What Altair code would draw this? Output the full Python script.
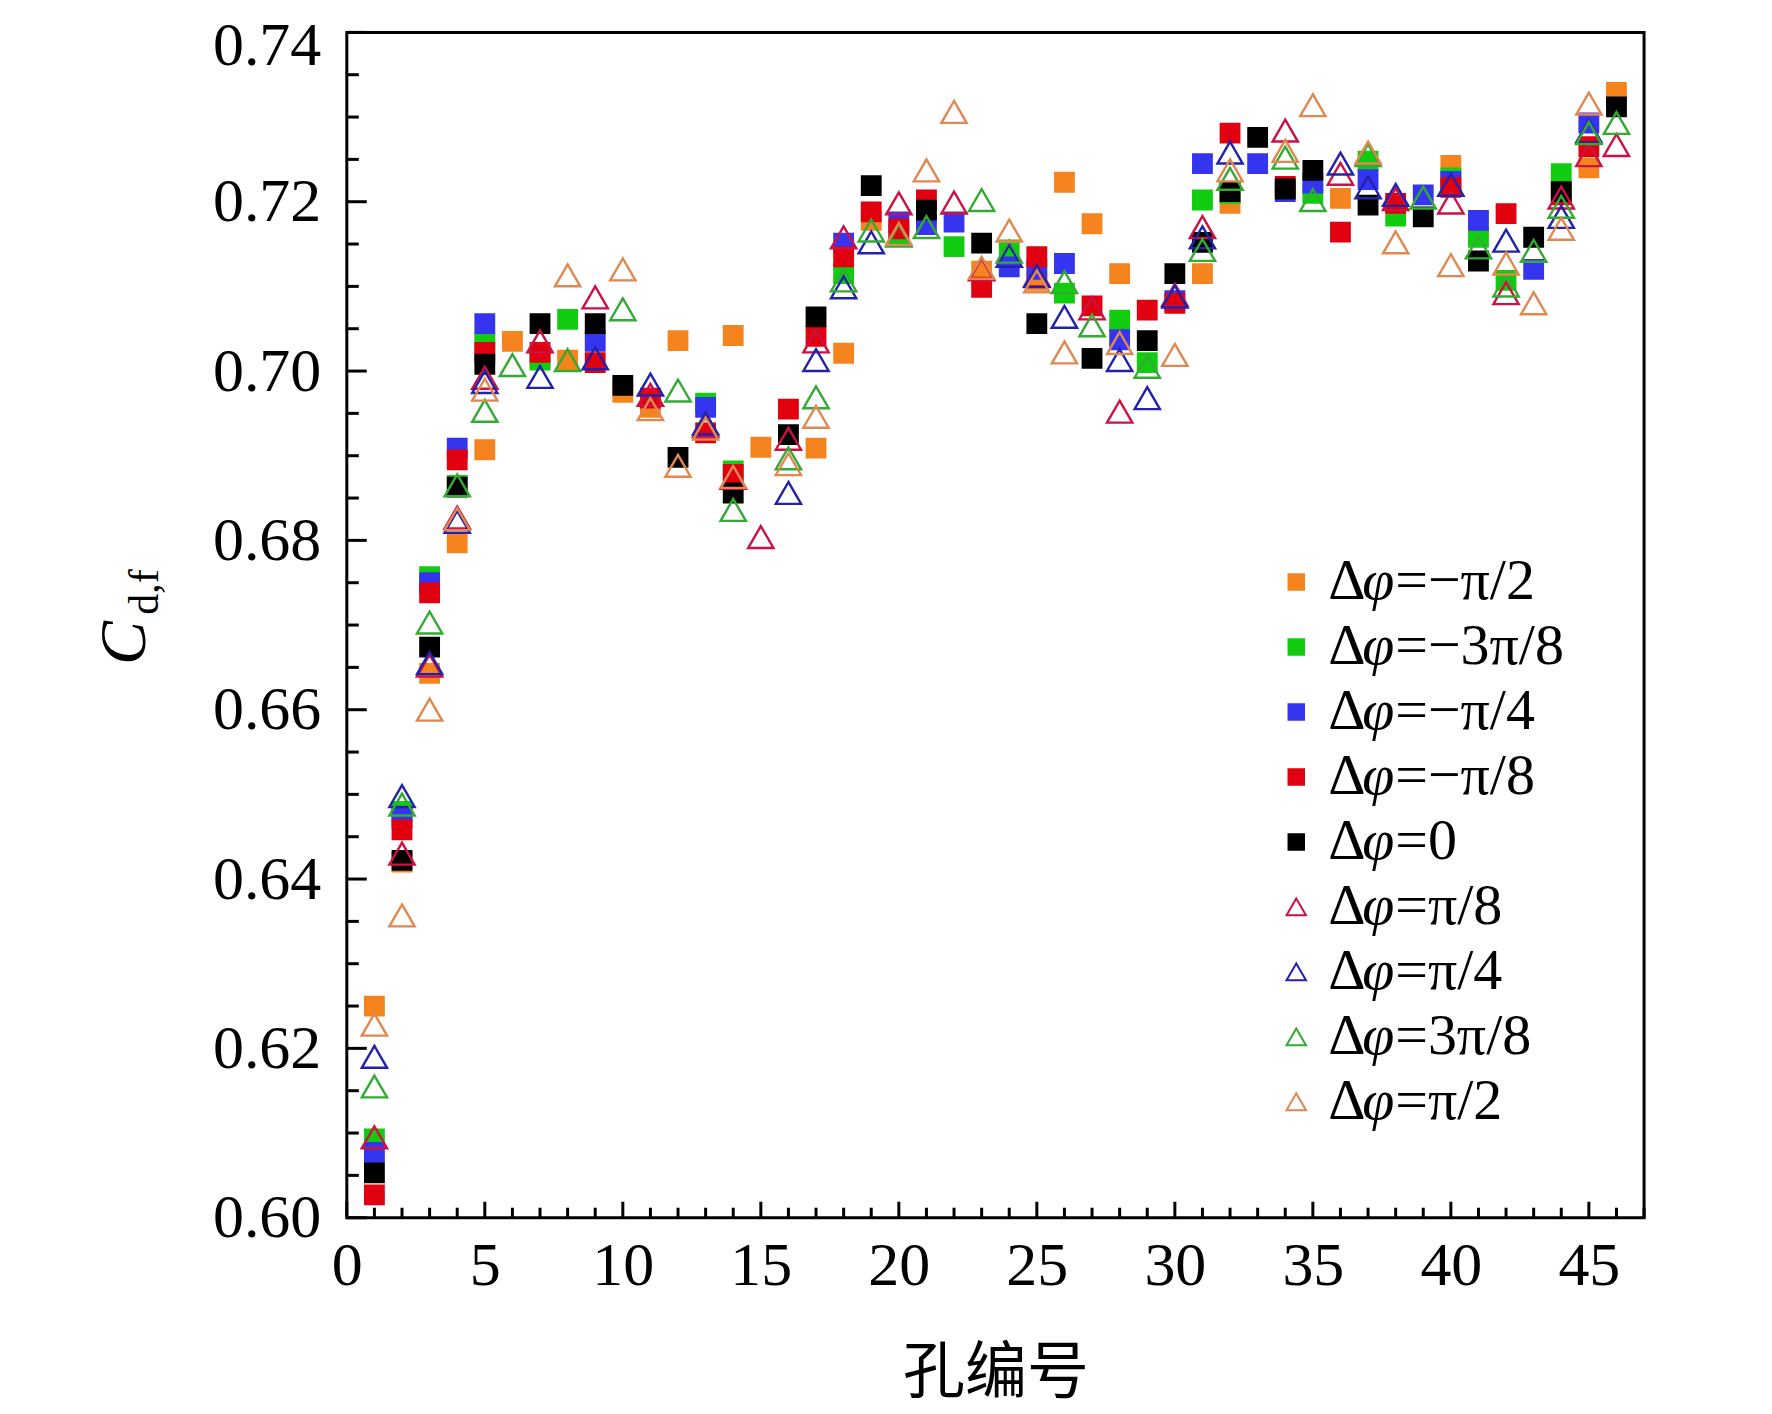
import altair as alt
import pandas as pd

N = None
holes = list(range(1, 47))

series_names = ["Δφ=−π/2", "Δφ=−3π/8", "Δφ=−π/4", "Δφ=−π/8", "Δφ=0",
                "Δφ=π/8", "Δφ=π/4", "Δφ=3π/8", "Δφ=π/2"]
series_colors = ["#F5841F", "#11CC11", "#3535F0", "#E00010", "#000000",
                 "#CC1144", "#2222AA", "#33AA33", "#E08850"]
series_shapes = ["square"] * 5 + ["triangle-up"] * 4
series_fills = series_colors[:5] + ["transparent"] * 4

neg_pi_2 = [.625, .642, .6643, .6797, .6907, .7035, .7015, .7013, N, .6975,
            .6957, .7036, N, .7042, .691, N, .6909, .7021, .7178, N,
            N, N, .7118, N, .7107, .7223, .7174, .7115, N, N,
            .7115, .7198, N, N, N, .7204, N, N, N, .7243,
            N, N, N, N, .724, .7329]
neg_3pi_8 = [.6093, .648, .6757, .6865, .7033, N, .7013, .7061, N, N,
             N, N, .6962, .6882, N, N, N, .7115, N, .7161,
             N, .7147, N, .7143, N, .7092, N, .706, .701, N,
             .7202, .721, N, N, .721, N, .7248, .7183, N, .7228,
             .7158, .7107, N, .7233, N, N]
neg_pi_4 = [.6077, .6472, .675, .6909, .7056, N, N, N, .7035, N,
            N, N, .6957, N, N, N, N, .7151, N, .7176,
            .7173, .7176, N, .7123, .712, .7127, N, .7037, N, .7083,
            .7245, N, .7245, .7212, .7222, N, .7226, N, .7208, .7224,
            .7178, N, .712, N, .7293, N]
neg_pi_8 = [.6027, .6458, .6738, .6895, .7022, N, .7022, N, .701, N,
            .6968, N, .6927, .6878, N, .6955, .7041, .7135, .7188, .7168,
            .7202, N, .7099, N, .7135, N, .7077, N, .7072, .708,
            N, .7281, N, .7218, N, .7164, N, .7198, N, .7217,
            N, .7186, N, .7208, .7265, N]
zero = [.6053, .6422, .6674, .6863, .7008, N, .7056, N, .7056, .6983,
        N, .6898, N, .6856, N, .6925, .7064, N, .7219, N,
        .719, N, .7151, N, .7056, N, .7015, N, .7036, .7115,
        .7152, .7212, .7276, .7215, .7237, N, .7196, N, .7182, N,
        .713, N, .7158, .7212, N, .7312]
pi_8 = [.6095, .643, .6652, .6827, .6992, N, .7035, N, .7087, N,
        .6972, N, .6935, .6874, .6804, .692, .7035, .7158, N, .7198,
        N, .7199, .712, N, .7113, N, .7074, .6952, N, .709,
        .717, N, N, .7284, N, .7233, N, .7203, N, .7199,
        N, .7092, N, .7205, .7255, .7267]
pi_4 = [.619, .6498, .6655, .6822, .6987, N, .6993, N, .7015, N,
        .6984, N, .6938, N, N, .6856, .7013, .7099, .7152, N,
        N, N, N, .7136, .7112, .7064, N, .7013, .6968, .7088,
        .7158, .7258, N, N, N, .7245, .7217, .7208, N, .722,
        N, .7154, N, .7182, .7283, N]
three_pi_8 = [.6155, .6488, .6703, .6865, .6953, .7007, N, .7013, N, .7073,
              N, .6977, N, .6836, N, .6897, .6969, .7107, .7166, .716,
              .717, N, .7202, .7141, N, .7105, .7054, N, .7005, N,
              .7143, .7227, N, .7252, .7202, N, .7255, N, .7205, N,
              .7146, .7101, .7142, .7194, .7281, .7293]
pi_2 = [.6228, .6357, .66, .6825, .6978, N, N, .7113, N, .712,
        .6955, .6888, .6932, .6875, N, .689, .6946, N, N, .7162,
        .7237, .7306, .7122, .7166, .7106, .7022, N, .7033, N, .7019,
        N, .7237, N, .726, .7314, N, .7258, .7152, N, .7125,
        N, .7127, .708, .7168, .7316, N]

all_series = [neg_pi_2, neg_3pi_8, neg_pi_4, neg_pi_8, zero,
              pi_8, pi_4, three_pi_8, pi_2]

x_major = [0, 5, 10, 15, 20, 25, 30, 35, 40, 45]
x_minor = [v for v in range(0, 48) if v % 5 != 0]
y_major = [0.60, 0.62, 0.64, 0.66, 0.68, 0.70, 0.72, 0.74]
y_minor = [0.605, 0.61, 0.615, 0.625, 0.63, 0.635, 0.645, 0.65, 0.655,
           0.665, 0.67, 0.675, 0.685, 0.69, 0.695, 0.705, 0.71, 0.715,
           0.725, 0.73, 0.735]

rows = []
for name, vals in zip(series_names, all_series):
    for h, v in zip(holes, vals):
        if v is not None:
            rows.append({"hole": h, "cd": v, "series": name})
df = pd.DataFrame(rows)
legend_df = pd.DataFrame({
    "series": series_names,
    "idx": list(range(len(series_names))),
    "rest": [s[2:] for s in series_names],
})

W, H = 1298, 1186
SERIF = "Liberation Serif"

xscale = alt.Scale(domain=[0, 47], nice=False, zero=False)
yscale = alt.Scale(domain=[0.60, 0.74], nice=False, zero=False)
shape_enc = alt.Shape("series:N", scale=alt.Scale(domain=series_names, range=series_shapes),
                      legend=None)
fill_enc = alt.Fill("series:N", scale=alt.Scale(domain=series_names, range=series_fills),
                    legend=None)
stroke_enc = alt.Stroke("series:N", scale=alt.Scale(domain=series_names, range=series_colors),
                        legend=None)

points = alt.Chart(df).mark_point(filled=False, strokeWidth=2.4, opacity=1).encode(
    x=alt.X("hole:Q", scale=xscale,
            axis=alt.Axis(values=x_major, format="d", ticks=False, tickSize=0,
                          domain=False, grid=False, labelFont=SERIF,
                          labelFontSize=62, labelColor="black", labelPadding=18,
                          labelFlush=False, labelOverlap=False,
                          title="孔编号", titleFont="Noto Sans CJK SC",
                          titleFontSize=62, titleFontWeight="normal",
                          titleColor="black", titlePadding=47)),
    y=alt.Y("cd:Q", scale=yscale,
            axis=alt.Axis(values=y_major, format=".2f", ticks=False, tickSize=0,
                          domain=False, grid=False, labelFont=SERIF,
                          labelFontSize=62, labelColor="black", labelPadding=26,
                          labelFlush=False, labelOverlap=False, title=None,
                          labelOffset={"condition": {"test": "datum.value > 0.735",
                                                     "value": 13},
                                       "value": 0})),
    shape=shape_enc, fill=fill_enc, stroke=stroke_enc,
    size=alt.Size("series:N", scale=alt.Scale(type="ordinal", domain=series_names,
                                              range=[340] * 5 + [640] * 4),
                  legend=None),
)

ytm = alt.Chart(pd.DataFrame({"v": y_major})).mark_rule(color="black", strokeWidth=3).encode(
    y=alt.Y("v:Q", scale=yscale, axis=None), x=alt.value(0), x2=alt.value(20))
ytn = alt.Chart(pd.DataFrame({"v": y_minor})).mark_rule(color="black", strokeWidth=3).encode(
    y=alt.Y("v:Q", scale=yscale, axis=None), x=alt.value(0), x2=alt.value(12))
xtm = alt.Chart(pd.DataFrame({"v": x_major})).mark_rule(color="black", strokeWidth=3).encode(
    x=alt.X("v:Q", scale=xscale), y=alt.value(H), y2=alt.value(H - 16))
xtn = alt.Chart(pd.DataFrame({"v": x_minor})).mark_rule(color="black", strokeWidth=3).encode(
    x=alt.X("v:Q", scale=xscale), y=alt.value(H), y2=alt.value(H - 10))

# legend built from the series list (rows placed through an index scale)
leg_y = alt.Y("idx:Q", scale=alt.Scale(domain=[0, 8], range=[550, 1070], nice=False, zero=False),
              axis=None)
leg_sq = alt.Chart(legend_df).transform_filter("datum.idx < 5").mark_point(
    filled=False, strokeWidth=2, opacity=1, size=240).encode(
    y=leg_y, x=alt.value(950), shape=shape_enc, fill=fill_enc, stroke=stroke_enc)
leg_tri = alt.Chart(legend_df).transform_filter("datum.idx >= 5").mark_point(
    filled=False, strokeWidth=2, opacity=1, size=380).encode(
    y=leg_y, x=alt.value(950), shape=shape_enc, fill=fill_enc, stroke=stroke_enc)
leg_delta = alt.Chart(legend_df).mark_text(
    font=SERIF, fontSize=58, align="left", baseline="middle", color="black").encode(
    y=leg_y, x=alt.value(982), text=alt.value("Δ"))
leg_phi = alt.Chart(legend_df).mark_text(
    font=SERIF, fontSize=58, fontStyle="italic", align="left", baseline="middle",
    color="black").encode(
    y=leg_y, x=alt.value(1016), text=alt.value("φ"))
leg_rest = alt.Chart(legend_df).mark_text(
    font=SERIF, fontSize=58, align="left", baseline="middle", color="black").encode(
    y=leg_y, x=alt.value(1049), text="rest:N")

one = alt.Data(values=[{"k": 1}])
title_c = alt.Chart(one).mark_text(
    font=SERIF, fontSize=66, fontStyle="italic", angle=270, align="center",
    baseline="middle", color="black").encode(
    x=alt.value(-222), y=alt.value(611), text=alt.value("C"))
title_sub = alt.Chart(one).mark_text(
    font=SERIF, fontSize=42, angle=270, align="center",
    baseline="middle", color="black").encode(
    x=alt.value(-202), y=alt.value(560), text=alt.value("d,f"))

chart = alt.layer(points, ytm, ytn, xtm, xtn, leg_sq, leg_tri, leg_delta, leg_phi,
                  leg_rest, title_c, title_sub).resolve_scale(y="independent").properties(
    width=W, height=H,
    padding={"left": 339, "top": 24, "right": 120, "bottom": 190},
    autosize=alt.AutoSizeParams(type="none"),
    background="white",
).configure_view(
    stroke="black", strokeWidth=3
)

chart.save("out.html", embed_options={"renderer": "svg", "actions": False})
